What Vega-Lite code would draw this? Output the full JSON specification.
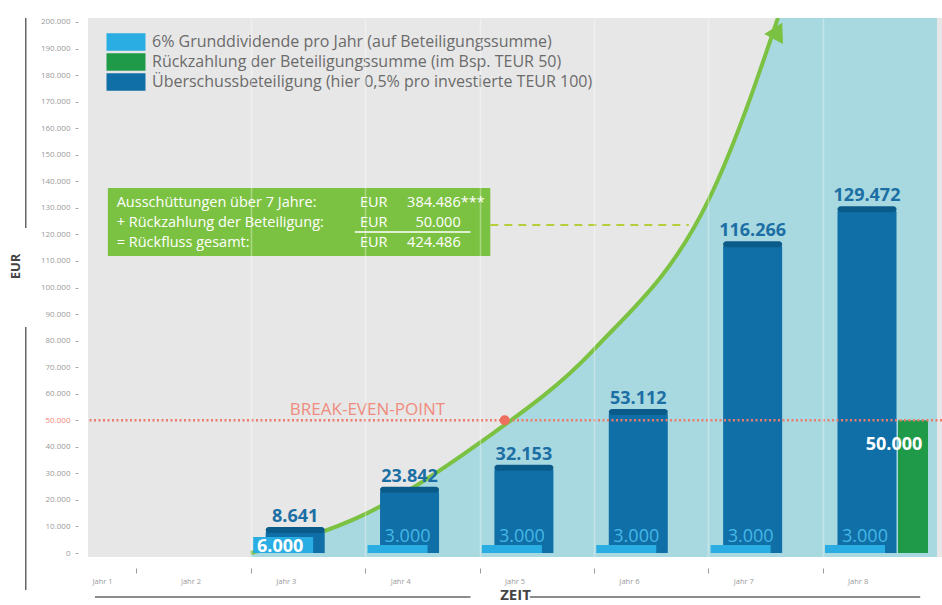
{
  "$schema": "https://vega.github.io/schema/vega-lite/v6.json",
  "width": 854,
  "height": 539,
  "autosize": {"type": "none"},
  "padding": {"left": 88, "top": 18, "right": 0, "bottom": 48},
  "background": "#ffffff",
  "config": {
    "view": {"fill": "#e7e7e7", "stroke": null},
    "font": "Open Sans",
    "locale": {"number": {"decimal": ",", "thousands": ".", "grouping": [3], "currency": ["", " €"]}}
  },
  "datasets": {
    "bars": [
      {"jahr": 3, "typ": "G", "art": "6% Grunddividende pro Jahr (auf Beteiligungssumme)", "wert": 6000},
      {"jahr": 4, "typ": "G", "art": "6% Grunddividende pro Jahr (auf Beteiligungssumme)", "wert": 3000},
      {"jahr": 5, "typ": "G", "art": "6% Grunddividende pro Jahr (auf Beteiligungssumme)", "wert": 3000},
      {"jahr": 6, "typ": "G", "art": "6% Grunddividende pro Jahr (auf Beteiligungssumme)", "wert": 3000},
      {"jahr": 7, "typ": "G", "art": "6% Grunddividende pro Jahr (auf Beteiligungssumme)", "wert": 3000},
      {"jahr": 8, "typ": "G", "art": "6% Grunddividende pro Jahr (auf Beteiligungssumme)", "wert": 3000},
      {"jahr": 8, "typ": "R", "art": "Rückzahlung der Beteiligungssumme (im Bsp. TEUR 50)", "wert": 50000},
      {"jahr": 3, "typ": "U", "art": "Überschussbeteiligung (hier 0,5% pro investierte TEUR 100)", "wert": 8641},
      {"jahr": 4, "typ": "U", "art": "Überschussbeteiligung (hier 0,5% pro investierte TEUR 100)", "wert": 23842},
      {"jahr": 5, "typ": "U", "art": "Überschussbeteiligung (hier 0,5% pro investierte TEUR 100)", "wert": 32153},
      {"jahr": 6, "typ": "U", "art": "Überschussbeteiligung (hier 0,5% pro investierte TEUR 100)", "wert": 53112},
      {"jahr": 7, "typ": "U", "art": "Überschussbeteiligung (hier 0,5% pro investierte TEUR 100)", "wert": 116266},
      {"jahr": 8, "typ": "U", "art": "Überschussbeteiligung (hier 0,5% pro investierte TEUR 100)", "wert": 129472}
    ],
    "kum": [
      {"zeit": 2, "summe": 0},
      {"zeit": 3, "summe": 14641},
      {"zeit": 4, "summe": 41483},
      {"zeit": 5, "summe": 76636},
      {"zeit": 6, "summe": 132748},
      {"zeit": 7, "summe": 252014},
      {"zeit": 8, "summe": 384486}
    ],
    "one": [{}]
  },
  "layer": [
    {
      "data": {"name": "kum"},
      "mark": {"type": "area", "color": "#a8d8e0", "interpolate": "monotone", "clip": true},
      "encoding": {
        "x": {
          "field": "zeit", "type": "quantitative",
          "scale": {"domain": [0.62, 8], "nice": false, "zero": false},
          "axis": {
            "values": [0.62, 1, 2, 3, 4, 5, 6, 7],
            "labelExpr": "datum.value < 1 ? 'Jahr 1' : 'Jahr ' + (datum.value + 1)",
            "labelOffset": {"condition": [{"test": "datum.value < 1", "value": 9}, {"test": "datum.value == 1", "value": 54}], "value": 35},
            "tickOpacity": {"condition": {"test": "datum.value < 1", "value": 0}, "value": 1},
            "grid": true,
            "gridColor": "#ffffff",
            "gridWidth": 1.5,
            "gridOpacity": {"condition": {"test": "datum.value <= 1", "value": 0}, "value": 0.35},
            "domain": false,
            "tickSize": 5, "tickColor": "#9a9a9a", "tickWidth": 1,
            "offset": 11, "labelPadding": 4,
            "labelFontSize": 7.5, "labelColor": "#9a9a9a", "labelFlush": false, "labelOverlap": false,
            "title": "ZEIT", "titleFontSize": 15, "titleFontWeight": "bold", "titleColor": "#444444", "titlePadding": 3,
            "zindex": 1
          }
        },
        "y": {
          "field": "summe", "type": "quantitative",
          "scale": {"domain": [-1500, 201500], "nice": false, "zero": false},
          "axis": {
            "values": [0, 10000, 20000, 30000, 40000, 50000, 60000, 70000, 80000, 90000, 100000, 110000, 120000, 130000, 140000, 150000, 160000, 170000, 180000, 190000, 200000],
            "tickCount": 21,
            "format": ",d",
            "domain": false, "grid": false,
            "labelOverlap": false, "labelFlush": false,
            "tickSize": 3, "tickColor": "#aaaaaa",
            "offset": 10, "labelPadding": 5,
            "labelFontSize": 8,
            "labelColor": {"condition": {"test": "datum.value == 50000", "value": "#ef8576"}, "value": "#9a9a9a"},
            "title": "EUR", "titleFontSize": 13, "titleFontWeight": "bold", "titleColor": "#444444", "titlePadding": 18,
            "titleY": 248
          }
        },
        "y2": {"datum": -1500}
      }
    },
    {
      "data": {"name": "kum"},
      "mark": {"type": "line", "color": "#7cc242", "strokeWidth": 4, "interpolate": "monotone", "clip": true},
      "encoding": {
        "x": {"field": "zeit", "type": "quantitative"},
        "y": {"field": "summe", "type": "quantitative"}
      }
    },
    {
      "data": {"name": "bars"},
      "transform": [{"filter": "datum.typ == 'U'"}],
      "mark": {"type": "bar", "width": 59, "xOffset": -70, "cornerRadiusTopLeft": 3, "cornerRadiusTopRight": 3},
      "encoding": {
        "x": {"field": "jahr", "type": "quantitative"},
        "y": {"field": "wert", "type": "quantitative", "stack": null},
        "color": {
          "field": "art", "type": "nominal",
          "scale": {
            "domain": ["6% Grunddividende pro Jahr (auf Beteiligungssumme)", "Rückzahlung der Beteiligungssumme (im Bsp. TEUR 50)", "Überschussbeteiligung (hier 0,5% pro investierte TEUR 100)"],
            "range": ["#2aade3", "#1f9a48", "#0f6fa6"]
          },
          "legend": {
            "orient": "none", "legendX": 28, "legendY": 14, "title": null, "padding": 0,
            "symbolType": "M-2,-0.9H2V0.9H-2Z", "symbolSize": 380, "symbolStrokeWidth": 0, "symbolOpacity": 1,
            "labelFontSize": 16, "labelColor": "#6b6b6b", "labelLimit": 700, "labelOffset": 16, "rowPadding": 1
          }
        }
      }
    },
    {
      "data": {"name": "bars"},
      "transform": [{"filter": "datum.typ == 'U'"}],
      "mark": {"type": "tick", "orient": "horizontal", "size": 59, "thickness": 6, "xOffset": -70, "color": "#0b5b8a", "cornerRadius": 3, "opacity": 1},
      "encoding": {
        "x": {"field": "jahr", "type": "quantitative"},
        "y": {"field": "wert", "type": "quantitative"}
      }
    },
    {
      "data": {"name": "bars"},
      "transform": [{"filter": "datum.typ == 'G'"}],
      "mark": {"type": "bar", "width": 60, "xOffset": -82},
      "encoding": {
        "x": {"field": "jahr", "type": "quantitative"},
        "y": {"field": "wert", "type": "quantitative", "stack": null},
        "color": {"field": "art", "type": "nominal"}
      }
    },
    {
      "data": {"name": "bars"},
      "transform": [{"filter": "datum.typ == 'R'"}],
      "mark": {"type": "bar", "width": 30, "xOffset": -24},
      "encoding": {
        "x": {"field": "jahr", "type": "quantitative"},
        "y": {"field": "wert", "type": "quantitative", "stack": null},
        "color": {"field": "art", "type": "nominal"}
      }
    },
    {
      "data": {"name": "bars"},
      "transform": [{"filter": "datum.typ == 'U'"}],
      "mark": {"type": "text", "dx": -70, "dy": -8, "baseline": "alphabetic", "align": "center", "fontSize": 18, "fontWeight": "bold", "color": "#1c6fa4"},
      "encoding": {
        "x": {"field": "jahr", "type": "quantitative"},
        "y": {"field": "wert", "type": "quantitative"},
        "text": {"field": "wert", "type": "quantitative", "format": ",d"}
      }
    },
    {
      "data": {"name": "bars"},
      "transform": [{"filter": "datum.typ == 'G' && datum.jahr > 3"}],
      "mark": {"type": "text", "dx": -72, "dy": -3, "baseline": "alphabetic", "align": "center", "fontSize": 18, "color": "#45b7e7"},
      "encoding": {
        "x": {"field": "jahr", "type": "quantitative"},
        "y": {"field": "wert", "type": "quantitative"},
        "text": {"field": "wert", "type": "quantitative", "format": ",d"}
      }
    },
    {
      "data": {"name": "bars"},
      "transform": [{"filter": "datum.typ == 'G' && datum.jahr == 3"}],
      "mark": {"type": "text", "dx": -85, "dy": 15, "baseline": "alphabetic", "align": "center", "fontSize": 18, "fontWeight": "bold", "color": "#ffffff"},
      "encoding": {
        "x": {"field": "jahr", "type": "quantitative"},
        "y": {"field": "wert", "type": "quantitative"},
        "text": {"field": "wert", "type": "quantitative", "format": ",d"}
      }
    },
    {
      "data": {"name": "bars"},
      "transform": [{"filter": "datum.typ == 'R'"}],
      "mark": {"type": "text", "dx": -43, "dy": 30, "baseline": "alphabetic", "align": "center", "fontSize": 18, "fontWeight": "bold", "color": "#ffffff"},
      "encoding": {
        "x": {"field": "jahr", "type": "quantitative"},
        "y": {"field": "wert", "type": "quantitative"},
        "text": {"field": "wert", "type": "quantitative", "format": ",d"}
      }
    },
    {
      "data": {"name": "one"},
      "mark": {"type": "rule", "color": "#ee7b6b", "strokeWidth": 2.5, "strokeDash": [2, 2.5]},
      "encoding": {"y": {"datum": 50000}}
    },
    {
      "data": {"name": "one"},
      "mark": {"type": "text", "text": "BREAK-EVEN-POINT", "fontSize": 17, "color": "#f08c7e", "align": "center", "baseline": "alphabetic", "dy": -5},
      "encoding": {"x": {"datum": 3.02}, "y": {"datum": 50000}}
    },
    {
      "data": {"name": "one"},
      "mark": {"type": "point", "filled": true, "size": 100, "color": "#ee6f5f", "opacity": 1},
      "encoding": {"x": {"datum": 4.22}, "y": {"datum": 50000}}
    },
    {
      "data": {"name": "one"},
      "mark": {"type": "point", "shape": "triangle-up", "angle": 28, "size": 450, "filled": true, "color": "#7cc242", "opacity": 1, "clip": false},
      "encoding": {"x": {"datum": 6.609}, "y": {"datum": 196610}}
    },
    {
      "data": {"name": "one"},
      "mark": {"type": "rule", "color": "#b4cf3b", "strokeWidth": 2, "strokeDash": [8, 6]},
      "encoding": {"x": {"datum": 4.094}, "x2": {"datum": 5.83}, "y": {"datum": 123500}}
    },
    {
      "data": {"name": "one"},
      "mark": {"type": "rect", "color": "#7cc242", "opacity": 1},
      "encoding": {"x": {"datum": 0.75}, "x2": {"datum": 4.094}, "y": {"datum": 137476}, "y2": {"datum": 111864}}
    },
    {
      "data": {"name": "one"},
      "mark": {"type": "text", "text": ["Ausschüttungen über 7 Jahre:", "+ Rückzahlung der Beteiligung:", "= Rückfluss gesamt:"], "fontSize": 14.5, "lineHeight": 20, "color": "#ffffff", "align": "left", "baseline": "top"},
      "encoding": {"x": {"datum": 0.827}, "y": {"datum": 134463}}
    },
    {
      "data": {"name": "one"},
      "mark": {"type": "text", "text": ["EUR", "EUR", "EUR"], "fontSize": 14.5, "lineHeight": 20, "color": "#ffffff", "align": "left", "baseline": "top"},
      "encoding": {"x": {"datum": 2.954}, "y": {"datum": 134463}}
    },
    {
      "data": {"name": "one"},
      "mark": {"type": "text", "text": ["384.486", "50.000", "424.486"], "fontSize": 14.5, "lineHeight": 20, "color": "#ffffff", "align": "right", "baseline": "top"},
      "encoding": {"x": {"datum": 3.835}, "y": {"datum": 134463}}
    },
    {
      "data": {"name": "one"},
      "mark": {"type": "text", "text": "***", "fontSize": 14.5, "color": "#ffffff", "align": "left", "baseline": "top"},
      "encoding": {"x": {"datum": 3.835}, "y": {"datum": 134463}}
    },
    {
      "data": {"name": "one"},
      "mark": {"type": "rule", "color": "#ffffff", "strokeWidth": 1.5},
      "encoding": {"x": {"datum": 2.91}, "x2": {"datum": 3.921}, "y": {"datum": 120904}}
    },
    {
      "data": {"name": "one"},
      "mark": {"type": "rule", "color": "#666666", "strokeWidth": 1.5},
      "encoding": {"x": {"datum": 0.032}, "y": {"datum": 201500}, "y2": {"datum": 122410}}
    },
    {
      "data": {"name": "one"},
      "mark": {"type": "rule", "color": "#666666", "strokeWidth": 1.5},
      "encoding": {"x": {"datum": 0.032}, "y": {"datum": 85122}, "y2": {"datum": -13936}}
    },
    {
      "data": {"name": "one"},
      "mark": {"type": "rule", "color": "#666666", "strokeWidth": 1.5},
      "encoding": {"x": {"datum": 0.637}, "x2": {"datum": 3.921}, "y": {"datum": -16572}}
    },
    {
      "data": {"name": "one"},
      "mark": {"type": "rule", "color": "#666666", "strokeWidth": 1.5},
      "encoding": {"x": {"datum": 4.44}, "x2": {"datum": 7.853}, "y": {"datum": -16572}}
    }
  ]
}
